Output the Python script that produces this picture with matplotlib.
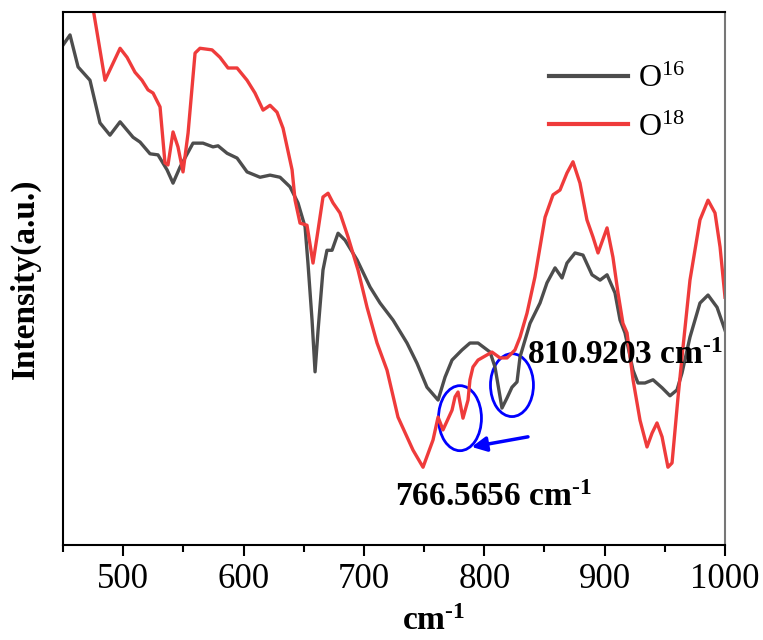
import matplotlib
matplotlib.use("Agg")
import matplotlib.pyplot as plt
from matplotlib.patches import Ellipse

plt.rcParams['font.family'] = ['Liberation Serif', 'DejaVu Serif']
plt.rcParams['mathtext.fontset'] = 'custom'
plt.rcParams['mathtext.rm'] = 'Liberation Serif'
plt.rcParams['mathtext.bf'] = 'Liberation Serif:bold'
plt.rcParams['mathtext.default'] = 'regular'

# O16 spectrum (wavenumber, intensity a.u.)
wn_o16 = [450, 455.8, 462.5, 472.4, 480.7, 489.0, 497.4, 508.2, 514.0, 522.3,
          528.9, 536.4, 541.4, 547.2, 558.0, 566.3, 574.6, 578.8, 586.3, 594.6,
          602.9, 613.7, 622.0, 630.3, 638.6, 645.2, 651.1, 653.5, 656.9, 659.4,
          661.9, 666.0, 669.3, 673.5, 678.5, 684.3, 694.3, 705.1, 713.4, 724.2,
          735.8, 744.1, 752.4, 761.6, 767.4, 773.2, 781.5, 788.1, 794.8, 804.8,
          808.9, 814.7, 818.9, 823.0, 827.2, 829.7, 838.0, 846.3, 852.1, 858.8,
          864.6, 868.7, 875.4, 882.0, 889.5, 896.2, 902.0, 908.6, 912.8, 916.9,
          923.6, 927.7, 933.5, 940.2, 947.7, 954.3, 960.1, 964.3, 970.9, 979.2,
          985.9, 993.4, 1000]
int_o16 = [93.8, 95.7, 89.7, 87.2, 79.2, 76.9, 79.4, 76.5, 75.6, 73.4,
           73.2, 70.4, 67.9, 70.9, 75.4, 75.4, 74.7, 74.9, 73.5, 72.6,
           70.0, 69.0, 69.4, 69.0, 67.2, 64.2, 59.7, 52.9, 42.2, 32.5,
           40.3, 51.6, 55.3, 55.3, 58.5, 57.2, 53.5, 48.4, 45.4, 42.2,
           37.9, 34.1, 29.6, 27.2, 31.5, 34.7, 36.6, 37.9, 37.9, 36.2,
           33.4, 25.7, 27.6, 29.6, 30.6, 35.3, 41.6, 45.4, 49.2, 52.0,
           50.1, 52.9, 54.8, 54.4, 50.7, 49.7, 50.7, 47.3, 42.2, 39.8,
           32.8, 30.4, 30.4, 31.0, 29.5, 28.0, 29.1, 32.3, 39.0, 45.4,
           46.9, 44.6, 40.3]

# O18 spectrum
wn_o18 = [471.0, 484.9, 497.4, 503.2, 509.8, 515.6, 520.6, 524.8, 530.6, 534.7,
          537.2, 541.4, 545.5, 549.7, 553.9, 559.7, 563.8, 573.8, 580.4, 587.1,
          594.6, 602.9, 609.5, 616.2, 622.0, 627.8, 632.8, 640.3, 642.8, 646.9,
          652.7, 657.7, 661.9, 666.0, 670.2, 674.3, 680.1, 686.8, 695.1, 702.6,
          710.9, 719.2, 728.3, 740.8, 749.1, 757.4, 761.6, 765.7, 773.2, 775.7,
          778.2, 782.3, 786.5, 788.1, 790.6, 794.8, 806.4, 813.1, 818.9, 825.5,
          829.7, 835.5, 842.1, 850.5, 857.1, 862.9, 868.7, 873.7, 879.5, 885.3,
          890.3, 894.5, 902.0, 906.9, 911.1, 915.2, 918.6, 923.6, 929.4, 935.2,
          939.4, 943.5, 947.7, 952.6, 956.0, 961.0, 965.1, 970.9, 979.2, 985.9,
          991.7, 995.9, 1000]
int_o18 = [106.0, 87.2, 93.2, 91.5, 88.7, 87.2, 85.4, 84.8, 82.2, 71.7,
           71.3, 77.5, 74.7, 70.0, 77.3, 92.3, 93.2, 92.9, 91.5, 89.5,
           89.5, 87.2, 84.8, 81.6, 82.5, 81.2, 78.2, 70.4, 64.7, 60.4,
           60.0, 52.9, 59.1, 65.3, 66.0, 64.2, 62.3, 57.8, 51.6, 44.6,
           37.9, 32.8, 24.0, 17.8, 14.6, 19.7, 24.0, 21.6, 25.3, 27.8,
           28.7, 23.8, 27.2, 31.0, 33.4, 34.7, 36.2, 35.1, 35.1, 36.6,
           39.0, 43.5, 50.3, 61.5, 65.7, 66.6, 69.8, 71.9, 67.9, 61.0,
           57.8, 54.8, 59.5, 54.0, 47.3, 41.6, 39.8, 31.0, 23.4, 18.4,
           21.0, 22.9, 20.3, 14.6, 15.4, 27.8, 37.1, 49.7, 61.0, 64.7,
           62.3, 55.9, 46.5]

fig = plt.figure(figsize=(7.63, 6.40), dpi=100)
ax = fig.add_axes([0.0826, 0.1484, 0.8676, 0.8328])

ax.plot(wn_o16, int_o16, color='#4d4d4d', lw=2.4, solid_joinstyle='round', label='O$^{16}$')
ax.plot(wn_o18, int_o18, color='#ef3b3b', lw=2.4, solid_joinstyle='round', label='O$^{18}$')

ax.set_xlim(450, 1000)
ax.set_ylim(0, 100)
ax.set_xticks(range(500, 1001, 100))
ax.set_xticks(range(450, 1001, 50), minor=True)
ax.set_yticks([])
ax.tick_params(axis='x', which='major', length=8, width=1.5, labelsize=25, pad=5)
ax.tick_params(axis='x', which='minor', length=5, width=1.5)
for side in ['bottom', 'left', 'top', 'right']:
    ax.spines[side].set_linewidth(1.5)
ax.spines['right'].set_color('#777777')

ax.set_xlabel(r'cm$^{\text{-}1}$', fontsize=24, fontweight='bold')
ax.xaxis.set_label_coords(0.56, -0.115)
ax.set_ylabel('Intensity(a.u.)', fontsize=24, fontweight='bold')
ax.yaxis.set_label_coords(-0.033, 0.5)

leg = ax.legend(loc='upper left', bbox_to_anchor=(0.69, 0.955), frameon=False,
                fontsize=23, handlelength=2.5, handletextpad=0.3, labelspacing=0.6)
for line in leg.get_lines():
    line.set_linewidth(3)

# marked peaks
ax.add_patch(Ellipse((779.8, 23.8), 35.7, 12.2, fill=False, ec='#0000ff', lw=2))
ax.add_patch(Ellipse((823.0, 30.0), 35.7, 11.8, fill=False, ec='#0000ff', lw=2))
ax.annotate('', xy=(789.5, 18.4), xytext=(836.3, 20.3),
            arrowprops=dict(arrowstyle='-|>', color='#0000ff', lw=2.5,
                            mutation_scale=22, shrinkA=0, shrinkB=0))

ax.text(835.5, 35.6, r'810.9203 cm$^{\text{-}1}$', fontsize=24, fontweight='bold', va='center', ha='left')
ax.text(807.3, 9.0, r'766.5656 cm$^{\text{-}1}$', fontsize=24, fontweight='bold', va='center', ha='center')

fig.savefig('out.png', dpi=100)
